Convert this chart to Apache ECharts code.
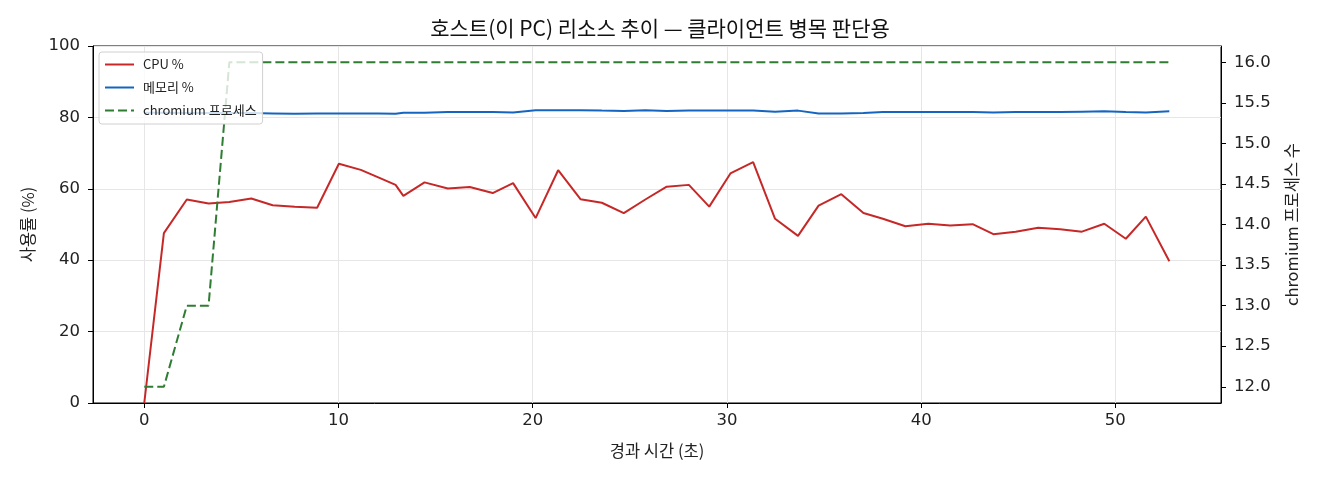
<!DOCTYPE html>
<html>
<head>
<meta charset="utf-8">
<script src="https://cdn.jsdelivr.net/npm/echarts@6/dist/echarts.min.js"></script>
<style>
  html, body { margin: 0; padding: 0; background: #fff; }
  #chart { width: 1320px; height: 480px; }
</style>
</head>
<body>
<div id="chart"></div>
<script>
// 경과 시간 (초)
const elapsed = [0, 1.01, 2.19, 3.31, 4.38, 5.51, 6.61, 7.75, 8.9, 10.02,
  11.15, 12.05, 12.94, 13.34, 14.43, 15.63, 16.76, 17.94, 18.99, 20.15,
  21.31, 22.46, 23.56, 24.69, 25.8, 26.9, 28.04, 29.09, 30.18, 31.35,
  32.48, 33.66, 34.72, 35.89, 37.03, 38.03, 39.19, 40.37, 41.5, 42.65,
  43.72, 44.87, 46.03, 47.16, 48.28, 49.43, 50.54, 51.57, 52.78];

const cpu = [0, 47.6, 57.0, 55.9, 56.3, 57.3, 55.4, 55.0, 54.7, 67.0,
  65.3, 63.2, 61.1, 58.0, 61.8, 60.1, 60.5, 58.8, 61.6, 51.8,
  65.2, 57.1, 56.1, 53.2, 57.0, 60.6, 61.1, 55.0, 64.3, 67.5,
  51.6, 46.8, 55.3, 58.5, 53.2, 51.6, 49.5, 50.2, 49.7, 50.1,
  47.3, 48.0, 49.1, 48.7, 48.0, 50.2, 46.0, 52.2, 39.7];

const memory = [81.3, 81.3, 81.2, 81.2, 81.2, 81.2, 81.1, 81.0, 81.1, 81.1,
  81.1, 81.1, 81.0, 81.3, 81.3, 81.5, 81.5, 81.5, 81.4, 82.0,
  82.0, 82.0, 81.9, 81.8, 82.0, 81.8, 81.9, 81.9, 81.9, 81.9,
  81.6, 81.9, 81.1, 81.1, 81.2, 81.5, 81.5, 81.5, 81.5, 81.5,
  81.4, 81.5, 81.5, 81.5, 81.6, 81.7, 81.5, 81.4, 81.7];

const chromium = [12, 12, 13, 13, 16, 16, 16, 16, 16, 16,
  16, 16, 16, 16, 16, 16, 16, 16, 16, 16,
  16, 16, 16, 16, 16, 16, 16, 16, 16, 16,
  16, 16, 16, 16, 16, 16, 16, 16, 16, 16,
  16, 16, 16, 16, 16, 16, 16, 16, 16];

const seriesNames = ['CPU %', '메모리 %', 'chromium 프로세스'];

function pairs(ys) {
  return elapsed.map((t, i) => [t, ys[i]]);
}

const FONT = '"Noto Sans CJK KR", "Noto Sans", sans-serif';
const NUM_FONT = '"DejaVu Sans", sans-serif';
const chart = echarts.init(document.getElementById('chart'));

const option = {
  animation: false,
  textStyle: { fontFamily: FONT },
  title: {
    text: '호스트(이 PC) 리소스 추이 — 클라이언트 병목 판단용',
    left: 'center',
    top: 13,
    textStyle: { fontFamily: FONT, fontSize: 21, fontWeight: 'normal', color: '#111' }
  },
  legend: {
    data: seriesNames,
    orient: 'vertical',
    left: 99,
    top: 52,
    itemWidth: 29,
    itemHeight: 14,
    itemGap: 10,
    padding: [6, 6, 7, 5],
    backgroundColor: 'rgba(255,255,255,0.8)',
    borderColor: '#d0d0d0',
    borderWidth: 1,
    borderRadius: 3,
    itemStyle: { opacity: 0 },
    textStyle: { fontFamily: FONT, fontSize: 13, color: '#222', padding: [0, 0, 0, 4] }
  },
  grid: {
    left: 93,
    right: 99,
    top: 46,
    bottom: 77,
    show: true,
    borderColor: '#000',
    borderWidth: 1,
    backgroundColor: 'transparent'
  },
  xAxis: {
    type: 'value',
    min: -2.64,
    max: 55.44,
    splitNumber: 6,
    name: '경과 시간 (초)',
    nameLocation: 'middle',
    nameGap: 39,
    nameTextStyle: { fontFamily: FONT, fontSize: 16.5, color: '#222' },
    axisLine: { show: true, onZero: false, lineStyle: { color: '#000' } },
    axisTick: { show: true, length: 5, lineStyle: { color: '#000' } },
    axisLabel: {
      showMinLabel: false,
      showMaxLabel: false,
      fontFamily: NUM_FONT,
      fontSize: 16.5,
      color: '#222',
      margin: 9,
      formatter: v => (Math.abs(v % 10) < 1e-6 ? String(v) : '')
    },
    splitLine: { show: true, lineStyle: { color: '#e6e6e6', width: 1 } }
  },
  yAxis: [
    {
      type: 'value',
      min: 0,
      max: 100,
      interval: 20,
      name: '사용률 (%)',
      nameLocation: 'middle',
      nameGap: 57,
      nameTextStyle: { fontFamily: FONT, fontSize: 16.5, color: '#222' },
      axisLine: { show: true, onZero: false, lineStyle: { color: '#000' } },
      axisTick: { show: true, length: 5, lineStyle: { color: '#000' } },
      axisLabel: { fontFamily: NUM_FONT, fontSize: 16.5, color: '#222', margin: 13 },
      splitLine: { show: true, lineStyle: { color: '#e6e6e6', width: 1 } }
    },
    {
      type: 'value',
      min: 11.8,
      max: 16.2,
      splitNumber: 9,
      position: 'right',
      name: 'chromium 프로세스 수',
      nameLocation: 'middle',
      nameGap: 62,
      nameRotate: 90,
      nameTextStyle: { fontFamily: FONT, fontSize: 16.5, color: '#222' },
      axisLine: { show: true, onZero: false, lineStyle: { color: '#000' } },
      axisTick: { show: true, length: 5, lineStyle: { color: '#000' } },
      axisLabel: {
        showMinLabel: false,
        showMaxLabel: false,
        fontFamily: NUM_FONT,
        fontSize: 16.5,
        color: '#222',
        margin: 13,
        formatter: v => (Math.abs((v * 2) % 1) < 1e-6 ? v.toFixed(1) : '')
      },
      splitLine: { show: false }
    }
  ],
  series: [
    {
      name: seriesNames[0],
      type: 'line',
      yAxisIndex: 0,
      data: pairs(cpu),
      symbol: 'none',
      lineStyle: { color: '#c62828', width: 2 },
      itemStyle: { color: '#c62828' },
      z: 3
    },
    {
      name: seriesNames[1],
      type: 'line',
      yAxisIndex: 0,
      data: pairs(memory),
      symbol: 'none',
      lineStyle: { color: '#1565c0', width: 2 },
      itemStyle: { color: '#1565c0' },
      z: 3
    },
    {
      name: seriesNames[2],
      type: 'line',
      yAxisIndex: 1,
      data: pairs(chromium),
      symbol: 'none',
      lineStyle: { color: '#2e7d32', width: 2, type: [9, 4] },
      itemStyle: { color: '#2e7d32' },
      z: 3
    }
  ]
};

chart.setOption(option);
</script>
</body>
</html>
